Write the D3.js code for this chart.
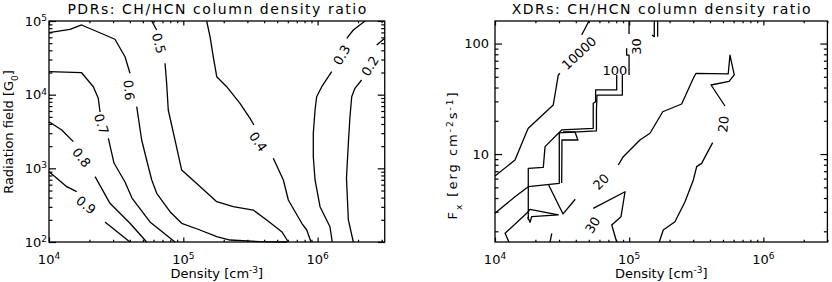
<!DOCTYPE html>
<html>
<head>
<meta charset="utf-8">
<script src="https://cdn.jsdelivr.net/npm/d3@7"></script>
<style>
  body { margin: 0; background: #fff; }
  text { font-family: "DejaVu Sans", sans-serif; fill: #000; }
</style>
</head>
<body>
<svg id="chart" width="832" height="282"></svg>
<script>
// axis ranges
const pdrDensityRange = [1e4, Math.pow(10, 6.5)];
const pdrFieldRange = [1e2, 1e5];
const xdrDensityRange = [1e4, 3e6];
const xdrFluxRange = [1.6, 160];

// contour lines, points are [log10 density, log10 field], gaps are where IDL put the labels
const pdrLevels = ["0.9", "0.8", "0.7", "0.6", "0.5", "0.4", "0.3", "0.2"];
const pdrContours = [
  [ [[4.000,2.954],[4.045,2.887],[4.132,2.751],[4.206,2.683]],
    [[4.417,2.272],[4.603,2.000]] ],
  [ [[4.000,3.633],[4.095,3.520],[4.181,3.362]],
    [[4.343,2.887],[4.454,2.525],[4.603,2.254],[4.727,2.000]] ],
  [ [[4.000,4.312],[4.243,4.298],[4.330,4.108],[4.367,3.951],[4.380,3.765]],
    [[4.442,3.408],[4.484,3.072],[4.566,2.815],[4.618,2.597],[4.752,2.272],[4.938,2.000]] ],
  [ [[4.000,4.841],[4.156,4.887],[4.243,4.946],[4.491,4.752],[4.566,4.515],[4.603,4.290]],
    [[4.653,3.837],[4.690,3.385],[4.727,3.113],[4.765,2.842],[4.802,2.661],[4.901,2.411],
     [4.988,2.254],[5.124,2.163],[5.249,2.072],[5.348,2.027],[5.571,2.005],[5.772,2.000]] ],
  [ [[4.765,5.000],[4.802,4.878]],
    [[4.864,4.426],[4.876,4.154],[4.888,3.792],[4.938,3.385],[4.988,2.977],[5.112,2.774],
     [5.249,2.547],[5.372,2.479],[5.521,2.434],[5.621,2.299],[5.733,2.140],[5.782,2.000]] ],
  [ [[5.174,5.000],[5.199,4.787],[5.223,4.515],[5.249,4.244],[5.323,4.108],[5.422,3.883],[5.497,3.679],[5.526,3.588]],
    [[5.670,3.137],[5.745,2.842],[5.782,2.570],[5.882,2.254],[5.919,2.163],[5.951,2.000]] ],
  [ [[6.353,5.000],[6.266,4.878],[6.217,4.765]],
    [[6.105,4.312],[6.031,4.108],[5.993,3.972],[5.981,3.792],[5.968,3.476],[5.968,3.158],
     [5.981,2.842],[6.018,2.479],[6.092,2.208],[6.109,2.000]] ],
  [ [[6.500,4.765],[6.440,4.674]],
    [[6.328,4.199],[6.278,4.086],[6.254,3.972],[6.241,3.701],[6.229,3.340],[6.215,2.869],[6.229,2.299],[6.266,2.000]] ]
];
// label: text, log10 density, log10 field, angle
const pdrLabels = [
  ["0.9", 4.276, 2.502, 38], ["0.8", 4.243, 3.147, 52], ["0.7", 4.391, 3.602, 72],
  ["0.6", 4.596, 4.063, 85], ["0.5", 4.819, 4.697, 75], ["0.4", 5.558, 3.362, 55],
  ["0.3", 6.179, 4.538, -60], ["0.2", 6.390, 4.389, -58]
];

const xdrLevels = ["10000", "1000", "100", "30", "20"];
const xdrContours = [
  [ [[4.000,0.801],[4.149,0.946],[4.236,1.202],[4.248,1.233],[4.434,1.444],[4.472,1.716],[4.484,1.731]],
    [[4.646,2.077],[4.700,2.204]] ],
  [ [[4.248,0.403],[4.248,0.871],[4.360,0.880],[4.373,1.067],[4.497,1.218],[4.732,1.233],[4.732,1.459],
     [4.750,1.474],[4.750,1.580],[4.907,1.580],[4.907,1.716]],
    [[4.497,0.738],[4.499,1.127],[4.618,1.127],[4.596,1.200],[4.507,1.200]] ],
  [ [[4.000,0.464],[4.149,0.614],[4.248,0.705],[4.479,0.735],[4.479,1.191],[4.756,1.209],[4.756,1.399],
     [4.760,1.534],[4.949,1.534],[4.949,1.716]] ],
  [ [[4.732,0.509],[4.969,0.659],[4.939,0.433],[4.870,0.358],[4.907,0.204]],
    [[4.400,0.720],[4.507,0.458],[4.598,0.591]],
    [[4.104,0.204],[4.075,0.283],[4.242,0.471],[4.261,0.500],[4.472,0.449],[4.273,0.433],[4.261,0.382],[4.244,0.430]],
    [[4.423,0.283],[4.410,0.204]],
    [[4.999,2.204],[4.999,2.086]],
    [[4.981,1.957],[4.981,1.896],[4.999,1.896],[4.999,1.716]],
    [[5.187,2.204],[5.187,2.062],[5.170,2.077]],
    [[5.212,2.204],[5.212,2.062]] ],
  [ [[4.919,0.901],[4.956,0.976],[5.019,1.052],[5.080,1.127],[5.155,1.188],[5.250,1.383],[5.391,1.453],
     [5.478,1.686],[5.498,1.731],[5.738,1.725],[5.751,1.896],[5.783,1.716],[5.744,1.657],[5.610,1.625],[5.714,1.435]],
    [[5.622,1.103],[5.540,0.916],[5.503,0.886],[5.478,0.765],[5.416,0.569],[5.341,0.388],[5.254,0.313],[5.224,0.204]] ]
];
const xdrLabels = [
  ["10000", 4.626, 1.915, -43], ["100", 4.894, 1.754, 0], ["30", 5.051, 1.973, -90],
  ["30", 4.727, 0.358, -58], ["20", 4.790, 0.750, -45], ["20", 5.701, 1.272, -85]
];

const X_TICK = 4.5, Y_TICK = 7;
const svg = d3.select("#chart");
const isDecade = v => Math.abs(Math.log10(v) - Math.round(Math.log10(v))) < 1e-6;

// text with sub/superscripts: parts are [text, level] with level 1 = up, -1 = down
function richText(t, parts) {
  let cur = 0;
  parts.forEach(([txt, lvl]) => {
    const s = t.append("tspan").text(txt).attr("dy", (cur - lvl) * 4.5);
    if (lvl !== 0) s.attr("font-size", 9);
    cur = lvl;
  });
}

function drawPanel(box, xDomain, yDomain, contours, labels, opt) {
  const w = box.width, h = box.height;
  const g = svg.append("g").attr("transform", `translate(${box.left},${box.top})`);
  const x = d3.scaleLog().domain(xDomain).range([0, w]);
  const y = d3.scaleLog().domain(yDomain).range([h, 0]);

  // contours
  const line = d3.line().x(d => x(Math.pow(10, d[0]))).y(d => y(Math.pow(10, d[1])));
  contours.forEach(segs => {
    g.append("g").selectAll("path").data(segs).join("path")
      .attr("d", line)
      .attr("fill", "none")
      .attr("stroke", "#000")
      .attr("stroke-width", 1.3)
      .attr("stroke-linejoin", "round");
  });
  g.selectAll(".clab").data(labels).join("text")
    .attr("class", "clab")
    .attr("transform", d => `translate(${x(Math.pow(10, d[1]))},${y(Math.pow(10, d[2]))}) rotate(${d[3]})`)
    .attr("text-anchor", "middle")
    .attr("dy", "0.36em")
    .attr("font-size", 13)
    .text(d => d[0]);

  // ticks on all four sides, pointing in
  const xt = x.ticks(), yt = y.ticks();
  const sides = [
    [d3.axisBottom, x, xt, `translate(0,${h})`, X_TICK],
    [d3.axisTop, x, xt, null, X_TICK],
    [d3.axisLeft, y, yt, null, Y_TICK],
    [d3.axisRight, y, yt, `translate(${w},0)`, Y_TICK]
  ];
  sides.forEach(([axis, s, vals, tr, len]) => {
    [true, false].forEach(major => {
      const a = g.append("g")
        .call(axis(s).tickValues(vals.filter(v => isDecade(v) === major))
          .tickSize(major ? -len : -len / 2).tickSizeOuter(0).tickFormat(""));
      if (tr) a.attr("transform", tr);
      a.select(".domain").remove();
      a.selectAll("line").attr("stroke-width", 1.2);
    });
  });

  g.append("rect").attr("width", w).attr("height", h)
    .attr("fill", "none").attr("stroke", "#000").attr("stroke-width", 1.3);

  // tick labels
  g.selectAll(".xlab").data(xt.filter(isDecade)).join("text")
    .attr("class", "xlab")
    .attr("x", d => x(d)).attr("y", h + 21.5)
    .attr("text-anchor", "middle").attr("font-size", 13)
    .each(function (d) {
      richText(d3.select(this), [["10", 0], [String(Math.round(Math.log10(d))), 1]]);
    });
  g.selectAll(".ylab").data(yt.filter(isDecade)).join("text")
    .attr("class", "ylab")
    .attr("x", -opt.yLabelGap).attr("y", d => y(d) + 4.5)
    .attr("text-anchor", "end").attr("font-size", 13)
    .each(function (d) {
      if (opt.powerLabels) richText(d3.select(this), [["10", 0], [String(Math.round(Math.log10(d))), 1]]);
      else d3.select(this).text(d3.format("d")(d));
    });

  // titles
  svg.append("text")
    .attr("x", box.left + w / 2).attr("y", 14)
    .attr("text-anchor", "middle").attr("font-size", 14)
    .attr("textLength", 299).attr("lengthAdjust", "spacing")
    .text(opt.title);

  const xTitle = svg.append("text")
    .attr("x", box.left + w / 2).attr("y", 277.5)
    .attr("text-anchor", "middle").attr("font-size", 13);
  richText(xTitle, [["Density [cm", 0], ["-3", 1], ["]", 0]]);

  const yTitle = svg.append("text")
    .attr("transform", `translate(${opt.yTitleX},${opt.yTitleY}) rotate(-90)`)
    .attr("text-anchor", "middle").attr("font-size", 13)
    .attr("letter-spacing", opt.yTitleSpacing || 0);
  richText(yTitle, opt.yTitle);
}

drawPanel({ left: 49, top: 21, width: 335.75, height: 221 },
  pdrDensityRange, pdrFieldRange, pdrContours, pdrLabels, {
    title: "PDRs: CH/HCN column density ratio",
    powerLabels: true, yLabelGap: 2,
    yTitleX: 13, yTitleY: 132,
    yTitle: [["Radiation field [G", 0], ["0", -1], ["]", 0]]
  });

drawPanel({ left: 495, top: 21, width: 332.4, height: 221 },
  xdrDensityRange, xdrFluxRange, xdrContours, xdrLabels, {
    title: "XDRs: CH/HCN column density ratio",
    powerLabels: false, yLabelGap: 6,
    yTitleX: 457, yTitleY: 155, yTitleSpacing: 2,
    yTitle: [["F", 0], ["x", -1], [" [erg cm", 0], ["-2", 1], ["s", 0], ["-1", 1], ["]", 0]]
  });
</script>
</body>
</html>
